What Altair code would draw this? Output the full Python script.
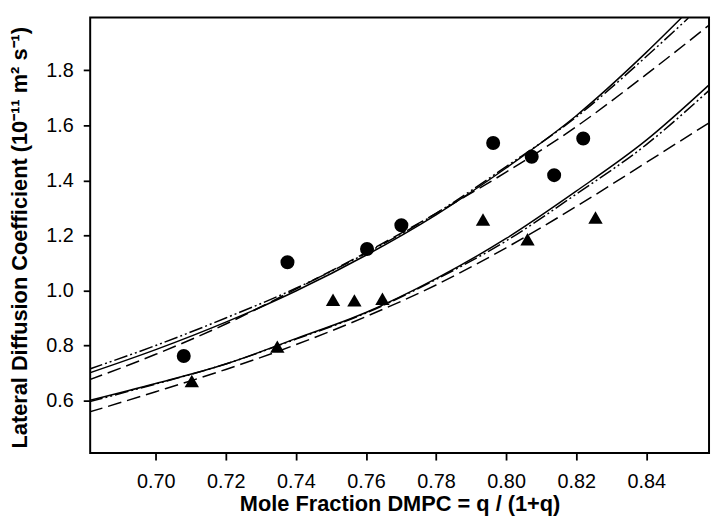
import altair as alt
import pandas as pd

# ---- data ----
circle_x = [0.708, 0.7376, 0.7603, 0.7701, 0.7963, 0.8073, 0.8137, 0.8220]
circle_y = [0.762, 1.1025, 1.1505, 1.237, 1.536, 1.486, 1.419, 1.552]

triangle_x = [0.7103, 0.7347, 0.7506, 0.7567, 0.7647, 0.7934, 0.8061, 0.8255]
triangle_y = [0.671, 0.796, 0.966, 0.964, 0.970, 1.258, 1.186, 1.265]

upper_solid_x = [0.681, 0.70, 0.72, 0.74, 0.76, 0.78, 0.80, 0.82, 0.84, 0.850]
upper_solid_y = [0.700, 0.785, 0.885, 0.998, 1.128, 1.275, 1.445, 1.635, 1.865, 1.99]

upper_dashdot_x = [0.681, 0.70, 0.72, 0.74, 0.76, 0.78, 0.80, 0.82, 0.84, 0.852]
upper_dashdot_y = [0.714, 0.800, 0.900, 1.008, 1.135, 1.28, 1.45, 1.63, 1.85, 1.99]

upper_dashed_x = [0.681, 0.70, 0.72, 0.74, 0.76, 0.78, 0.80, 0.82, 0.84, 0.858]
upper_dashed_y = [0.675, 0.768, 0.878, 1.005, 1.138, 1.28, 1.43, 1.595, 1.785, 1.965]

lower_solid_x = [0.681, 0.70, 0.72, 0.74, 0.76, 0.78, 0.80, 0.82, 0.84, 0.858]
lower_solid_y = [0.600, 0.662, 0.733, 0.825, 0.92, 1.043, 1.189, 1.361, 1.546, 1.748]

lower_dashdot_x = [0.681, 0.70, 0.72, 0.74, 0.76, 0.78, 0.80, 0.82, 0.84, 0.858]
lower_dashdot_y = [0.596, 0.660, 0.733, 0.823, 0.918, 1.04, 1.18, 1.35, 1.53, 1.728]

lower_dashed_x = [0.681, 0.70, 0.72, 0.74, 0.76, 0.78, 0.80, 0.82, 0.84, 0.858]
lower_dashed_y = [0.558, 0.632, 0.713, 0.803, 0.905, 1.02, 1.155, 1.305, 1.465, 1.61]

x_ticks = [0.70, 0.72, 0.74, 0.76, 0.78, 0.80, 0.82, 0.84]
y_ticks = [0.6, 0.8, 1.0, 1.2, 1.4, 1.6, 1.8]

x_title = "Mole Fraction DMPC = q / (1+q)"
y_title = "Lateral Diffusion Coefficient (10\u207b\u00b9\u00b9 m\u00b2 s\u207b\u00b9)"

FONT = "Liberation Sans"

x_scale = alt.Scale(domain=[0.6813, 0.8579], nice=False, zero=False)
y_scale = alt.Scale(domain=[0.409, 1.992], nice=False, zero=False)

x_axis = alt.Axis(
    title=x_title, values=x_ticks, format=".2f", grid=False,
    domain=False, tickColor="black", tickWidth=1.8, tickSize=7,
    labelFont=FONT, labelFontSize=20, labelColor="black", labelPadding=12,
    titleFont=FONT, titleFontSize=22, titleFontWeight="bold", titleColor="black",
    titleY=51, titleBaseline="middle",
)
y_axis = alt.Axis(
    title=y_title, values=y_ticks, format=".1f", grid=False,
    domain=False, tickColor="black", tickWidth=1.8, tickSize=7,
    labelFont=FONT, labelFontSize=20, labelColor="black", labelPadding=10,
    titleFont=FONT, titleFontSize=22, titleFontWeight="bold", titleColor="black",
    titleX=-71, titleY=222, titleAngle=-90, titleBaseline="middle", titleAlign="center",
)


def curve_df(xs, ys):
    return pd.DataFrame({"x": xs, "y": ys})


def curve(xs, ys, dash):
    kwargs = dict(color="black", strokeWidth=1.5, interpolate="monotone", clip=True)
    if dash:
        kwargs["strokeDash"] = dash
    return alt.Chart(curve_df(xs, ys)).mark_line(**kwargs).encode(
        x=alt.X("x:Q", scale=x_scale, axis=x_axis),
        y=alt.Y("y:Q", scale=y_scale, axis=y_axis),
    )


DASH = [14, 6]
DASHDOT = [14, 3, 2, 3, 2, 3]

layers = [
    curve(upper_solid_x, upper_solid_y, None),
    curve(upper_dashdot_x, upper_dashdot_y, DASHDOT),
    curve(upper_dashed_x, upper_dashed_y, DASH),
    curve(lower_solid_x, lower_solid_y, None),
    curve(lower_dashdot_x, lower_dashdot_y, DASHDOT),
    curve(lower_dashed_x, lower_dashed_y, DASH),
]

circles = alt.Chart(pd.DataFrame({"x": circle_x, "y": circle_y})).mark_point(
    shape="circle", filled=True, color="black", size=200, opacity=1
).encode(x=alt.X("x:Q", scale=x_scale, axis=x_axis), y=alt.Y("y:Q", scale=y_scale, axis=y_axis))

triangles = alt.Chart(pd.DataFrame({"x": triangle_x, "y": triangle_y})).mark_point(
    shape="triangle-up", filled=True, color="black", size=210, opacity=1
).encode(x=alt.X("x:Q", scale=x_scale, axis=x_axis), y=alt.Y("y:Q", scale=y_scale, axis=y_axis))

chart = alt.layer(*layers, circles, triangles).properties(
    width=625, height=440,
    autosize=alt.AutoSizeParams(type="none"),
    padding={"left": 83, "top": 7, "right": 3, "bottom": 64},
).configure_view(
    stroke="black", strokeWidth=2
)

chart.save("out.html", embed_options={"renderer": "svg", "actions": False})
